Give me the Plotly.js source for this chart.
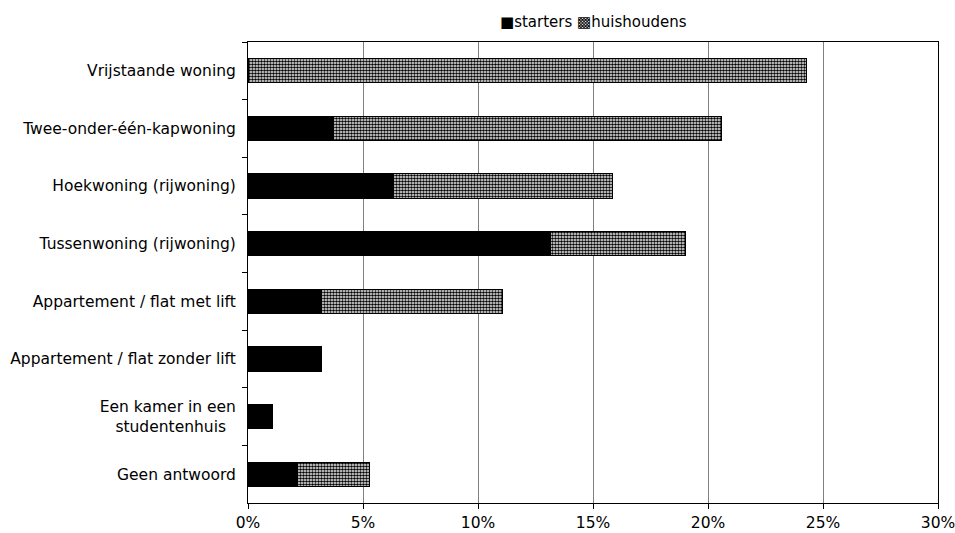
<!DOCTYPE html>
<html>
<head>
<meta charset="utf-8">
<script src="https://cdn.plot.ly/plotly-3.0.1.min.js"></script>
<style>
  html, body { margin: 0; padding: 0; background: #ffffff; }
  #chart { width: 955px; height: 533px; }
</style>
</head>
<body>
<div id="chart"></div>
<script>
// Woningtypen: aandeel starters en huishoudens (in %)
const categories = [
  "Vrijstaande woning",
  "Twee-onder-één-kapwoning",
  "Hoekwoning (rijwoning)",
  "Tussenwoning (rijwoning)",
  "Appartement / flat met lift",
  "Appartement / flat zonder lift",
  "Een kamer in een<br>studentenhuis\u00a0\u00a0",
  "Geen antwoord"
];
const starters = [0, 3.73, 6.32, 13.15, 3.2, 3.2, 1.08, 2.15];
const huishoudens = [24.29, 16.85, 9.51, 5.85, 7.88, 0, 0, 3.14];
const seriesNames = ["starters", "huishoudens"];
const xTickVals = [0, 5, 10, 15, 20, 25, 30];
const xTickText = ["0%", "5%", "10%", "15%", "20%", "25%", "30%"];

const font = { family: "DejaVu Sans, Verdana, sans-serif", size: 15.5, color: "#000000" };

const traces = [
  {
    type: "bar",
    orientation: "h",
    name: seriesNames[0],
    y: categories,
    x: starters,
    marker: { color: "#000000", line: { color: "#000000", width: 1 } },
    hoverinfo: "x+y"
  },
  {
    type: "bar",
    orientation: "h",
    name: seriesNames[1],
    y: categories,
    x: huishoudens,
    marker: {
      color: "#ffffff",
      line: { color: "#000000", width: 1 },
      pattern: { shape: ".", fgcolor: "#000000", bgcolor: "#ffffff", size: 3, solidity: 0.6 }
    },
    hoverinfo: "x+y"
  }
];

// Compact legend line above the plot: filled square for starters,
// cross-hatched square for huishoudens.
const legendText = "\u25A0" + seriesNames[0] + " \u25A9" + seriesNames[1];

const layout = {
  width: 955,
  height: 533,
  margin: { l: 248, r: 17, t: 42, b: 30 },
  paper_bgcolor: "#ffffff",
  plot_bgcolor: "#ffffff",
  font: font,
  barmode: "stack",
  bargap: 0.58,
  showlegend: false,
  annotations: [
    {
      xref: "paper",
      yref: "paper",
      x: 0.5,
      y: 1.043,
      xanchor: "center",
      yanchor: "middle",
      showarrow: false,
      text: legendText,
      font: { family: "DejaVu Sans, Verdana, sans-serif", size: 15, color: "#000000" }
    }
  ],
  xaxis: {
    range: [0, 30],
    tickvals: xTickVals,
    ticktext: xTickText,
    ticklabeloverflow: "allow",
    showgrid: true,
    gridcolor: "#808080",
    gridwidth: 1,
    zeroline: false,
    showline: true,
    linecolor: "#000000",
    linewidth: 1,
    mirror: true,
    ticks: "outside",
    ticklen: 5,
    tickcolor: "#000000",
    tickfont: font,
    fixedrange: true
  },
  yaxis: {
    autorange: "reversed",
    type: "category",
    showgrid: false,
    zeroline: false,
    showline: true,
    linecolor: "#000000",
    linewidth: 1,
    mirror: true,
    ticks: "outside",
    tickson: "boundaries",
    ticklen: 5,
    tickcolor: "#000000",
    tickfont: font,
    ticklabelstandoff: 8,
    fixedrange: true
  }
};

Plotly.newPlot("chart", traces, layout, { displayModeBar: false, staticPlot: true });
</script>
</body>
</html>
